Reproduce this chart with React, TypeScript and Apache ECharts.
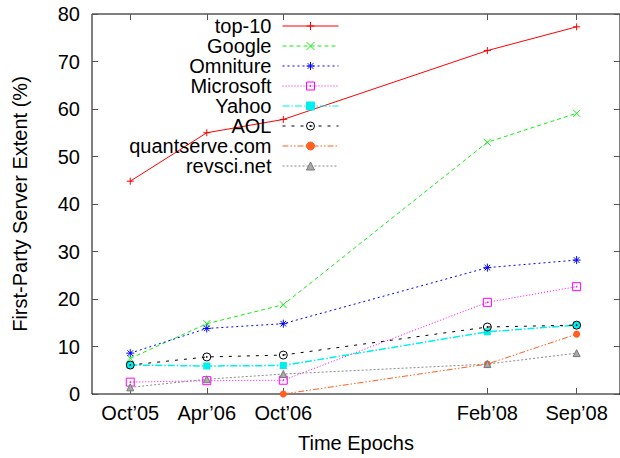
import React, { useEffect, useRef } from "react";
import * as echarts from "echarts";

const epochMonths = [0, 6, 12, 28, 35];
const epochLabels = ["Oct’05", "Apr’06", "Oct’06", "Feb’08", "Sep’08"];
const yTicks = [0, 10, 20, 30, 40, 50, 60, 70, 80];

const top10 = [44.8, 55.0, 57.8, 72.3, 77.3];
const google = [7.5, 14.8, 18.8, 53.0, 59.1];
const omniture = [8.6, 13.8, 14.8, 26.6, 28.2];
const microsoft = [2.5, 2.8, 2.9, 19.3, 22.6];
const yahoo = [6.1, 5.9, 6.0, 13.1, 14.5];
const aol = [6.1, 7.8, 8.2, 14.1, 14.5];
const quantserve = [null, null, 0.0, 6.3, 12.6];
const revsci = [1.4, 3.1, 4.2, 6.3, 8.6];

const FONT = "Liberation Sans, Arial, Helvetica, sans-serif";

const SYM_PLUS = "path://M5,0V10M0,5H10";
const SYM_CROSS = "path://M0,0L10,10M10,0L0,10";
const SYM_STAR = "path://M5,0V10M0,5H10M1.5,1.5L8.5,8.5M8.5,1.5L1.5,8.5";
const SYM_OSQ = "path://M0,0H10V10H0ZM4.5,4.5H5.5V5.5H4.5Z";
const SYM_OCIRC = "path://M10,5A5,5,0,1,1,0,5A5,5,0,1,1,10,5ZM4.5,4.5H5.5V5.5H4.5Z";

function pairs(vals: (number | null)[]) {
  const out: [number, number][] = [];
  vals.forEach((v, i) => {
    if (v !== null) out.push([epochMonths[i], v]);
  });
  return out;
}

type Spec = {
  name: string;
  vals: (number | null)[];
  color: string;
  dash: number[] | "solid";
  width: number;
  symbol: string;
  size: number;
  hollow: boolean;
};

const specs: Spec[] = [
  { name: "top-10", vals: top10, color: "#ff0000", dash: "solid", width: 1, symbol: SYM_PLUS, size: 7, hollow: true },
  { name: "Google", vals: google, color: "#11ee11", dash: [4, 3], width: 1, symbol: SYM_CROSS, size: 7, hollow: true },
  { name: "Omniture", vals: omniture, color: "#0000ff", dash: [2, 3], width: 1, symbol: SYM_STAR, size: 8, hollow: true },
  { name: "Microsoft", vals: microsoft, color: "#ff00ff", dash: [1, 2], width: 1, symbol: SYM_OSQ, size: 8, hollow: true },
  { name: "Yahoo", vals: yahoo, color: "#00eeee", dash: [7, 2, 1.5, 2], width: 1.5, symbol: "rect", size: 7, hollow: false },
  { name: "AOL", vals: aol, color: "#000000", dash: [3, 6], width: 1, symbol: SYM_OCIRC, size: 8, hollow: true },
  { name: "quantserve.com", vals: quantserve, color: "#ff5f1f", dash: [6, 2, 1.5, 2, 1.5, 2], width: 1, symbol: "circle", size: 7, hollow: false },
  { name: "revsci.net", vals: revsci, color: "#8a8a8a", dash: [2, 2], width: 1, symbol: "triangle", size: 7, hollow: false },
];

export default function App() {
  const ref = useRef<HTMLDivElement>(null);

  useEffect(() => {
    if (!ref.current) return;
    const chart = echarts.init(ref.current, null, { renderer: "svg" });

    const series = specs.map((s) => ({
      name: s.name,
      type: "line",
      data: pairs(s.vals),
      symbol: s.symbol,
      symbolSize: s.size,
      lineStyle: { color: s.color, width: s.width, type: s.dash },
      itemStyle: s.hollow
        ? { color: "rgba(0,0,0,0)", borderColor: s.color, borderWidth: 1 }
        : {
            color: s.name === "revsci.net" ? "#aaa" : s.color,
            borderColor: s.name === "revsci.net" ? "#777" : s.color,
            borderWidth: s.name === "revsci.net" ? 1 : 0,
          },
      emphasis: { disabled: true },
      z: 3,
    }));

    const labelFor = (v: number) => {
      const i = epochMonths.indexOf(v);
      return i >= 0 ? epochLabels[i] : "";
    };

    const tick = (vals: number[]) => ({
      show: true,
      inside: true,
      length: 6,
      customValues: vals,
      lineStyle: { color: "#555", width: 1 },
    });

    chart.setOption({
      animation: false,
      backgroundColor: "#ffffff",
      textStyle: { fontFamily: FONT },
      grid: {
        left: 92,
        top: 14,
        width: 530,
        height: 380,
        show: true,
        borderColor: "#000",
        borderWidth: 1,
        backgroundColor: "transparent",
      },
      legend: {
        data: specs.map((s) => s.name),
        orient: "vertical",
        align: "right",
        right: 281,
        top: 16,
        padding: 0,
        itemWidth: 56,
        itemHeight: 10,
        itemGap: 0,
        itemStyle: { borderWidth: 1 },
        lineStyle: { width: 1 },
        textStyle: {
          fontFamily: FONT,
          fontSize: 20,
          color: "#000",
          lineHeight: 18,
          padding: [0, 6, 0, 0],
        },
        selectedMode: false,
        z: 5,
      },
      xAxis: [
        {
          type: "value",
          min: -3,
          max: 38.4,
          name: "Time Epochs",
          nameLocation: "middle",
          nameGap: 39,
          nameTextStyle: { fontFamily: FONT, fontSize: 20, color: "#000" },
          axisLine: { show: false, onZero: false },
          splitLine: { show: false },
          axisTick: tick(epochMonths),
          axisLabel: {
            customValues: epochMonths,
            formatter: (v: number) => labelFor(v),
            fontFamily: FONT,
            fontSize: 20,
            color: "#000",
            margin: 9,
          },
        },
        {
          type: "value",
          position: "top",
          min: -3,
          max: 38.4,
          axisLine: { show: false, onZero: false },
          splitLine: { show: false },
          axisTick: tick(epochMonths),
          axisLabel: { show: false },
        },
      ],
      yAxis: [
        {
          type: "value",
          min: 0,
          max: 80,
          interval: 10,
          name: "First-Party Server Extent (%)",
          nameLocation: "middle",
          nameGap: 62,
          nameTextStyle: { fontFamily: FONT, fontSize: 20, color: "#000" },
          axisLine: { show: false, onZero: false },
          splitLine: { show: false },
          axisTick: tick(yTicks),
          axisLabel: {
            customValues: yTicks,
            fontFamily: FONT,
            fontSize: 20,
            color: "#000",
            margin: 12,
          },
        },
        {
          type: "value",
          position: "right",
          min: 0,
          max: 80,
          interval: 10,
          axisLine: { show: false, onZero: false },
          splitLine: { show: false },
          axisTick: tick(yTicks),
          axisLabel: { show: false },
        },
      ],
      series,
    });

    return () => {
      chart.dispose();
    };
  }, []);

  return (
    <div
      ref={ref}
      style={{ position: "absolute", left: 0, top: 0, width: 620, height: 458 }}
    />
  );
}
